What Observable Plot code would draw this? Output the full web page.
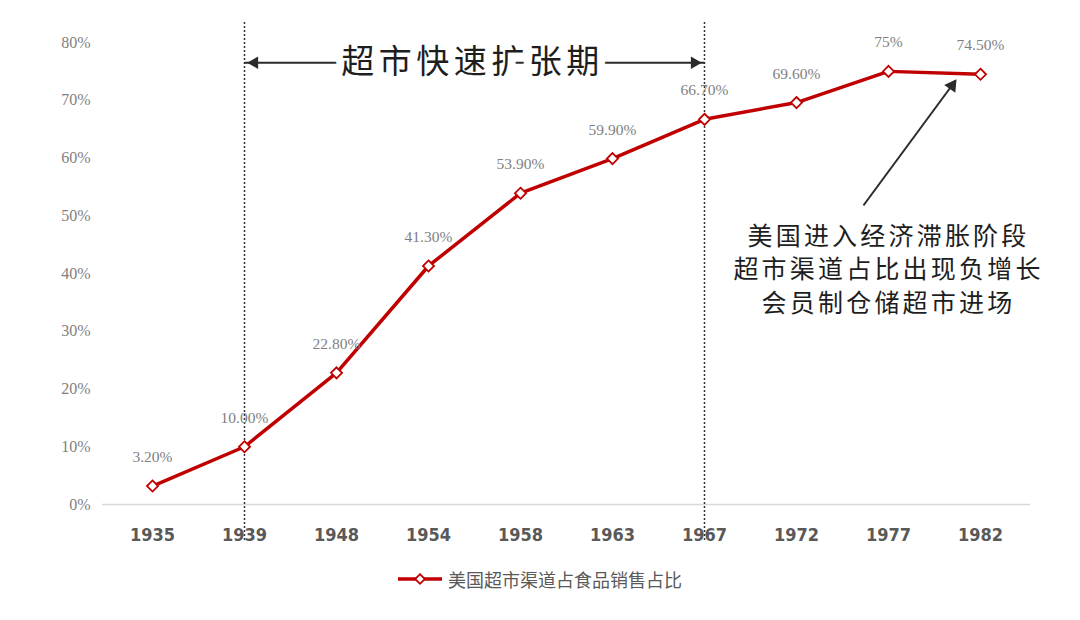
<!DOCTYPE html>
<html><head><meta charset="utf-8">
<script src="https://cdn.jsdelivr.net/npm/d3@7"></script>
<script src="https://cdn.jsdelivr.net/npm/@observablehq/plot@0.6"></script>
<style>
body{margin:0;background:#fff;width:1080px;height:620px;overflow:hidden;}
#chart svg{display:block;}
#legend{position:absolute;left:0;top:566px;width:1080px;display:flex;justify-content:center;align-items:center;font-family:"Noto Sans CJK SC",sans-serif;font-size:18px;color:#595959;}
#legend svg{margin-right:6px;}
</style>
</head><body>
<div id="chart"></div>
<div id="legend"></div>
<script>
const years = ["1935","1939","1948","1954","1958","1963","1967","1972","1977","1982"];
const shares = [3.2, 10.0, 22.8, 41.3, 53.9, 59.9, 66.7, 69.6, 75, 74.5];
const labels = ["3.20%","10.00%","22.80%","41.30%","53.90%","59.90%","66.70%","69.60%","75%","74.50%"];
const yTicks = [0,10,20,30,40,50,60,70,80];
const periodYears = ["1939","1967"];
const periodText = "超市快速扩张期";
const periodY = 76.5;
const noteLines = ["美国进入经济滞胀阶段","超市渠道占比出现负增长","会员制仓储超市进场"];
const noteY = 41;
const noteArrow = {x1: "1977", y1: 51.8, x2: "1982", y2: 73.4};
const seriesName = "美国超市渠道占食品销售占比";

const data = years.map((y,i)=>({year:y, share:shares[i], label:labels[i]}));
const red = "#c00000";
const dark = "#2b2b2b";

const periodFont = {fontSize: 33, fontFamily: "Noto Sans CJK SC, sans-serif"};

const chart = Plot.plot({
  width: 1080,
  height: 560,
  marginLeft: 102,
  marginRight: 50,
  marginTop: 42,
  marginBottom: 56,
  style: {background: "#fff"},
  x: {type: "point", domain: years, padding: 0.5},
  y: {domain: [0, 80]},
  marks: [
    Plot.axisY({ticks: yTicks, tickSize: 0, tickPadding: 12, tickFormat: d => d + "%",
      fontSize: 16, fontFamily: "Liberation Serif, serif", fill: "#7f7f7f", label: null}),
    Plot.axisX({tickSize: 0, tickPadding: 24, fontSize: 18, fontWeight: "bold",
      fontFamily: "Liberation Sans Narrow, DejaVu Sans Condensed, sans-serif", fill: "#595959", label: null}),
    Plot.ruleY([0], {stroke: "#d9d9d9", strokeWidth: 1.5}),
    Plot.ruleX(periodYears, {stroke: "#333", strokeWidth: 1.5, strokeDasharray: "2,2", insetTop: -20, insetBottom: -36}),
    // period double arrow
    Plot.link([{a: periodYears[0], b: periodYears[1]}],
      {x1: "a", x2: "b", y1: () => periodY, y2: () => periodY, stroke: dark, strokeWidth: 2}),
    Plot.dot([periodYears[0]], {x: d => d, y: () => periodY, symbol: "triangle2", r: 6, fill: dark, rotate: -90, dx: 10}),
    Plot.dot([periodYears[1]], {x: d => d, y: () => periodY, symbol: "triangle2", r: 6, fill: dark, rotate: 90, dx: -10}),
    Plot.text([periodText], {x: () => periodYears[0], y: () => periodY, dx: 228, text: d => d,
      ...periodFont, fill: "white", stroke: "white", strokeWidth: 16}),
    Plot.text([periodText], {x: () => periodYears[0], y: () => periodY, dx: 228, text: d => d,
      ...periodFont, fill: "#1e1e1e"}),
    // series
    Plot.line(data, {x: "year", y: "share", stroke: red, strokeWidth: 3.5}),
    Plot.dot(data, {x: "year", y: "share", symbol: "diamond2", r: 5, fill: "white", stroke: red, strokeWidth: 1.8}),
    Plot.text(data, {x: "year", y: "share", text: "label", dy: -29, fontSize: 15.5,
      fontFamily: "Liberation Serif, serif", fill: "#7f7f7f"}),
    // note arrow
    Plot.link([noteArrow], {x1: "x1", y1: "y1", x2: "x2", y2: "y2", dx: -25, stroke: dark, strokeWidth: 1.8}),
    Plot.dot([noteArrow], {x: "x2", y: "y2", symbol: "triangle2", r: 6.5, fill: dark, rotate: 35, dx: -28.5, dy: 5}),
    Plot.text([noteLines.join("\n")], {x: () => "1977", y: () => noteY, dx: 0, text: d => d,
      fontSize: 25, lineHeight: 1.33, fill: "#1e1e1e", fontFamily: "Noto Sans CJK SC, sans-serif"})
  ]
});
// letter spacing for the two annotations
d3.select(chart).selectAll("text")
  .filter(function() { return this.textContent === periodText; })
  .attr("letter-spacing", 4.5);
d3.select(chart).selectAll("text")
  .filter(function() { return this.textContent.startsWith(noteLines[0]); })
  .attr("letter-spacing", 3.2);
document.getElementById("chart").appendChild(chart);

const leg = document.getElementById("legend");
const sw = d3.create("svg").attr("width", 44).attr("height", 16);
sw.append("line").attr("x1", 0).attr("x2", 44).attr("y1", 8).attr("y2", 8).attr("stroke", red).attr("stroke-width", 3.5);
sw.append("path").attr("d", d3.symbol(d3.symbolDiamond2, 60)()).attr("transform", "translate(22,8)")
  .attr("fill", "white").attr("stroke", red).attr("stroke-width", 1.8);
leg.appendChild(sw.node());
const sp = document.createElement("span"); sp.textContent = seriesName; leg.appendChild(sp);
</script>
</body></html>
